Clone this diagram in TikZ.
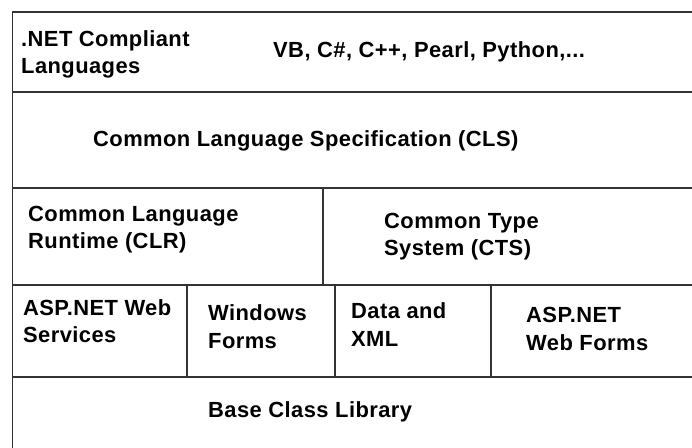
\documentclass[tikz,border=0pt]{standalone}
\usepackage{fontspec}
\setmainfont{Liberation Sans}[LetterSpace=2]
\usepackage{tikz}
\tikzstyle{celltext}=[anchor=base west,align=left,inner sep=0pt,font=\bfseries\fontsize{22}{28}\selectfont]
\tikzstyle{divider}=[draw=black!80,line width=1.6pt]
\tikzstyle{thindivider}=[divider,line width=1.3pt]

\begin{document}
\begin{tikzpicture}[x=1bp,y=-1bp]
    \useasboundingbox[fill=white] (0,0) rectangle (692,448);
    % First we draw the layers of the stack
    \foreach \y in {12,92,188,285,377}
        \path[divider] (12,\y) -- (692,\y);
    \path[divider] (12.5,11.2) -- (12.5,448);

    % Then the walls between the boxes of a layer
    \foreach \x/\top/\bot in {323/188/285, 187/285/377, 335/285/377, 491/285/377}
        \path[thindivider] (\x,\top) -- (\x,\bot);

    % And the texts of the boxes (placed at the baseline of their last line)
    \foreach \pos/\name/\txt in {{(21,74)/langs/{.NET Compliant\\Languages}},
            {(273,58)/vb/{VB, C\#, C++, Pearl, Python,...}},
            {(93,147)/cls/{Common Language Specification (CLS)}},
            {(28,249)/clr/{Common Language\\Runtime (CLR)}},
            {(384,256)/cts/{Common Type\\System (CTS)}},
            {(23,343)/websvc/{ASP.NET Web\\Services}},
            {(208,348)/winforms/{Windows\\Forms}},
            {(351,346)/xml/{Data and\\XML}},
            {(526,350)/webforms/{ASP.NET\\Web Forms}},
            {(208,417)/bcl/{Base Class Library}}}
        \node[celltext] (\name) at \pos {\txt};
\end{tikzpicture}
\end{document}
